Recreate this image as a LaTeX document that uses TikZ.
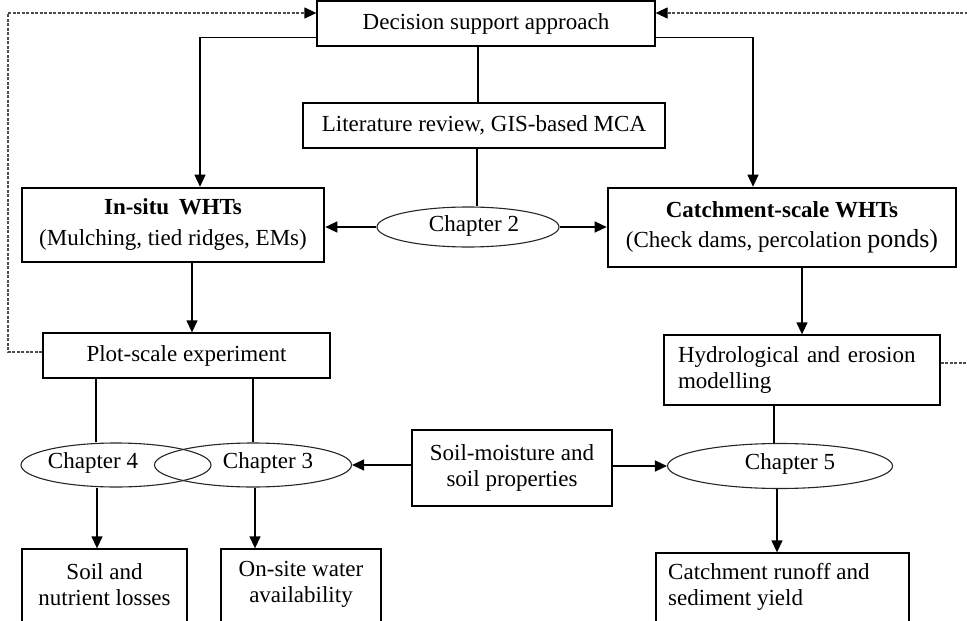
\documentclass[tikz,border=0pt]{standalone}
\usepackage{fontspec}
\setmainfont{Liberation Serif}
\usetikzlibrary{arrows.meta,shapes.geometric}
\begin{document}
\begin{tikzpicture}[x=1pt,y=-1pt,
  every node/.style={font=\fontsize{23}{26}\selectfont},
  box/.style={draw, line width=1.3pt, inner sep=0pt, align=center},
  thickbox/.style={draw, line width=2.6pt, inner sep=0pt, align=center},
  ell/.style={draw, ellipse, line width=1.1pt, draw=black!85, inner sep=0pt},
  lbl/.style={inner sep=0pt},
  con/.style={line width=1.3pt},
  arr/.style={con, -{Triangle[length=12pt,width=11pt]}},
  dsh/.style={line width=1.3pt, dash pattern=on 3pt off 1.5pt, draw=black!70},
  darr/.style={dsh, -{Triangle[length=12pt,width=11pt,color=black]}}
]
\useasboundingbox (0,0) rectangle (967,621);

% boxes
\node[box, minimum width=338, minimum height=45] (dec) at (486,23.5) {Decision support approach};
\node[box, minimum width=362, minimum height=45] (lit) at (484,125.5) {Literature review, GIS-based MCA};
\node[ell, minimum width=182, minimum height=40] (ch2) at (468,227) {};
\node[lbl] (ch2T) at (474,226) {Chapter 2};
\node[thickbox, minimum width=302, minimum height=74] (insitu) at (173,225)
  {\textbf{In-situ\, WHTs}\\[5pt](Mulching, tied ridges, EMs)};
\node[thickbox, minimum width=348, minimum height=79] (catch) at (782,227.5)
  {\textbf{Catchment-scale WHTs}\\[4pt](Check dams, percolation {\fontsize{26}{26}\selectfont ponds)}};
\node[box, minimum width=287, minimum height=45] (plot) at (186.5,355.5) {Plot-scale experiment};
\node[box, minimum width=276, minimum height=70, align=left, text width=248, inner xsep=14pt] (hyd) at (802,370)
  {Hydrological and erosion\\modelling};
\node[ell, minimum width=190, minimum height=44] (ch4) at (116,465) {};
\node[lbl] (ch4T) at (93,463) {Chapter 4};
\node[ell, minimum width=197, minimum height=44] (ch3) at (253,465) {};
\node[lbl] (ch3T) at (268,463) {Chapter 3};
\node[ell, minimum width=225, minimum height=45] (ch5) at (780,466) {};
\node[lbl] (ch5T) at (790,464) {Chapter 5};
\node[box, minimum width=200, minimum height=76] (soilm) at (512,468) {Soil-moisture and\\soil properties};

\node[box, minimum width=165, minimum height=111] (soil) at (104.5,604.5) {};
\node[align=center, inner sep=0pt] (soilT) at (104.5,584.5) {Soil and\\nutrient losses};
\node[box, minimum width=160, minimum height=111] (onsite) at (301,604.5) {};
\node[align=center, inner sep=0pt] (onsiteT) at (301,584.5) {On-site water\\availability};
\node[box, minimum width=253, minimum height=107] (runoff) at (782.5,606.5) {};
\node[align=left, inner sep=0pt, anchor=west] (runoffT) at (668,587) {Catchment runoff and\\sediment yield};

% free ends of the dashed feedback lines
\coordinate (dl) at (8,13);
\coordinate (dr) at (975,13);

% connectors
\draw[arr] ([yshift=-14pt]dec.west) -| ([xshift=27pt]insitu.north);
\draw[arr] ([yshift=-14pt]dec.east) -| ([xshift=-29pt]catch.north);
\draw[con] ([xshift=-8pt]dec.south) -- ([xshift=-6pt]lit.north);
\draw[con] ([xshift=-7pt]lit.south) -- ([xshift=9pt]ch2.north);
\draw[arr] (ch2.west) -- (ch2.west -| insitu.east);
\draw[arr] (ch2.east) -- (ch2.east -| catch.west);
\draw[arr] ([xshift=19pt]insitu.south) -- ([xshift=5.5pt]plot.north);
\draw[arr] (catch.south -| hyd.north) -- (hyd.north);
\draw[con] ([xshift=-90.5pt]plot.south) -- ([xshift=-20pt]ch4.north);
\draw[con] ([xshift=66.5pt]plot.south) -- (ch3.north);
\draw[arr] ([xshift=-19pt]ch4.south) -- ([xshift=-7.5pt]soil.north);
\draw[arr] ([xshift=2pt]ch3.south) -- ([xshift=-46pt]onsite.north);
\draw[arr] (soilm.west |- ch3.east) -- (ch3.east);
\draw[arr] (soilm.east |- ch5.west) -- (ch5.west);
\draw[con] ([xshift=-28pt]hyd.south) -- ([xshift=-6pt]ch5.north);
\draw[arr] ([xshift=-3pt]ch5.south) -- ([xshift=-5.5pt]runoff.north);

% dashed feedback
\draw[darr] ([yshift=3.5pt]plot.west) -| (dl) -- ([yshift=10.5pt]dec.west);
\draw[darr] ([yshift=7pt]hyd.east) -| (dr) -- ([yshift=10.5pt]dec.east);
\end{tikzpicture}
\end{document}
